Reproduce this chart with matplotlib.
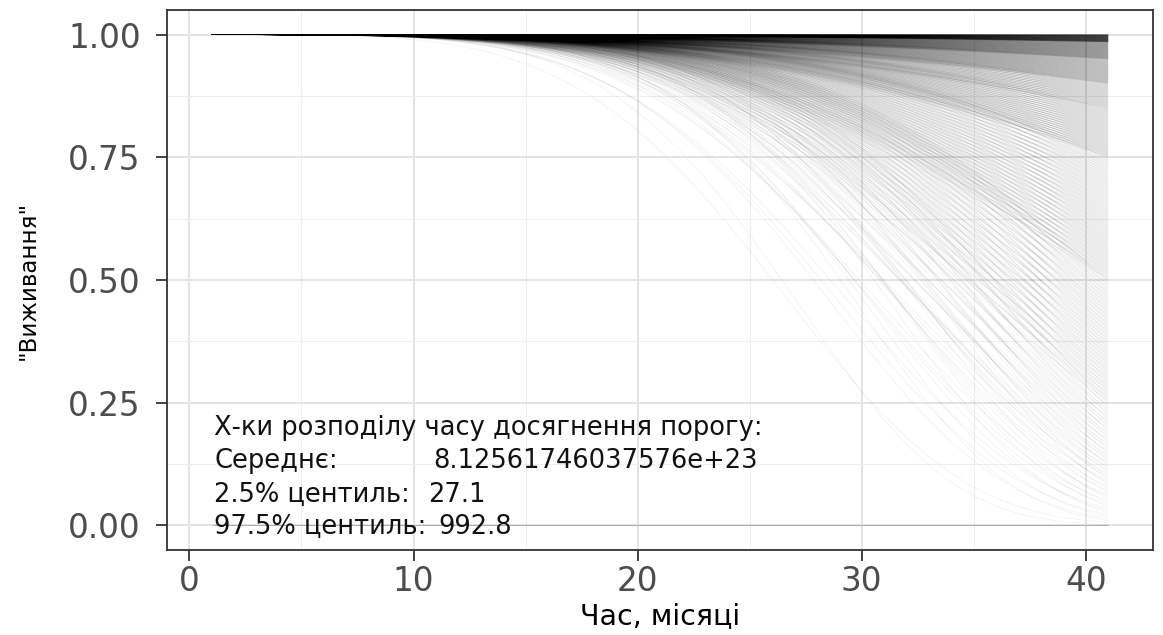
import numpy as np
import matplotlib
matplotlib.use("Agg")
import matplotlib.pyplot as plt
from matplotlib.collections import LineCollection
from matplotlib.ticker import MultipleLocator

plt.rcParams['font.family'] = ['DejaVu Sans']

# Months at which every simulated survival curve is evaluated
months = np.arange(1, 42)

# Simulated curves, grouped by their survival value at month 41
end_band_edges = [0.00, 0.10, 0.25, 0.50, 0.75, 0.85, 0.90, 0.95, 0.985, 1.00]
curves_per_band = [25, 45, 110, 170, 135, 85, 150, 180, 200]
# Weibull shape of the curves in each band
band_shapes = [5.0, 4.8, 4.4, 3.8, 3.3, 3.0, 2.8, 2.6, 2.5]
# Relative spread of the shape among curves of one band
shape_spread = [1.00, 0.88, 1.10, 0.94, 1.06, 0.91, 1.13]
zero_curves = 6

# Summary of the time-to-threshold distribution
summary_title = "Х-ки розподілу часу досягнення порогу:"
summary_labels = ["Середнє:", "2.5% центиль:", "97.5% центиль:"]
summary_values = ["8.12561746037576e+23", "27.1", "992.8"]

x_ticks = [0, 10, 20, 30, 40]
y_ticks = [0.00, 0.25, 0.50, 0.75, 1.00]
y_tick_labels = ["0.00", "0.25", "0.50", "0.75", "1.00"]

fig = plt.figure(figsize=(11.63, 6.35), dpi=100)
ax = fig.add_axes([167 / 1163, 1 - 550 / 635, 986 / 1163, 540 / 635])

# Build the curve family: S(t) = S41 ** ((t / 41) ** k)
segments = []
for lo, hi, n, k0 in zip(end_band_edges[:-1], end_band_edges[1:],
                         curves_per_band, band_shapes):
    ends = lo + (hi - lo) * (np.arange(n) + 0.5) / n
    for i, s_end in enumerate(ends):
        k = k0 * shape_spread[i % len(shape_spread)]
        s = s_end ** ((months / months[-1]) ** k)
        segments.append(np.column_stack([months, s]))
for _ in range(zero_curves):
    segments.append(np.column_stack([months, np.zeros_like(months, dtype=float)]))

lc = LineCollection(segments, colors='black', linewidths=0.6, alpha=0.05, zorder=2)
ax.add_collection(lc)

ax.set_xlim(-1, 43)
ax.set_ylim(-0.05, 1.05)
ax.set_xticks(x_ticks)
ax.set_yticks(y_ticks)
ax.set_yticklabels(y_tick_labels)
ax.xaxis.set_minor_locator(MultipleLocator(5))
ax.yaxis.set_minor_locator(MultipleLocator(0.125))

ax.set_axisbelow(True)
ax.grid(which='major', color='#e4e4e4', linewidth=1.4, zorder=0)
ax.grid(which='minor', color='#efefef', linewidth=0.8, zorder=0)
for sp in ax.spines.values():
    sp.set_color('#333333')
    sp.set_linewidth(1.3)

ax.tick_params(which='major', length=8, width=1.3, color='#333333',
               labelsize=23.5, labelcolor='#4d4d4d')
ax.tick_params(axis='x', pad=3)
ax.tick_params(axis='y', pad=11)
ax.tick_params(which='minor', length=0)

ax.set_xlabel("Час, місяці", fontsize=20.5, color='black')
ax.set_ylabel('"Виживання"', fontsize=16.5, color='black')
ax.xaxis.set_label_coords(0.5, -0.122)
ax.xaxis.label.set_va('center')
ax.yaxis.set_label_coords(-0.141, 0.5)
ax.yaxis.label.set_va('center')

# Summary annotation in the lower-left corner
txt_kw = dict(fontsize=18.5, color='#111111', va='center', ha='left', zorder=5)
ax.text(1.1, 0.198, summary_title, **txt_kw)
row_y = [0.131, 0.063, -0.004]
value_x = [10.9, 10.67, 11.1]
for lab, val, yy, vx in zip(summary_labels, summary_values, row_y, value_x):
    ax.text(1.1, yy, lab, **txt_kw)
    ax.text(vx, yy, val, **txt_kw)

fig.savefig("out.png", dpi=100)
